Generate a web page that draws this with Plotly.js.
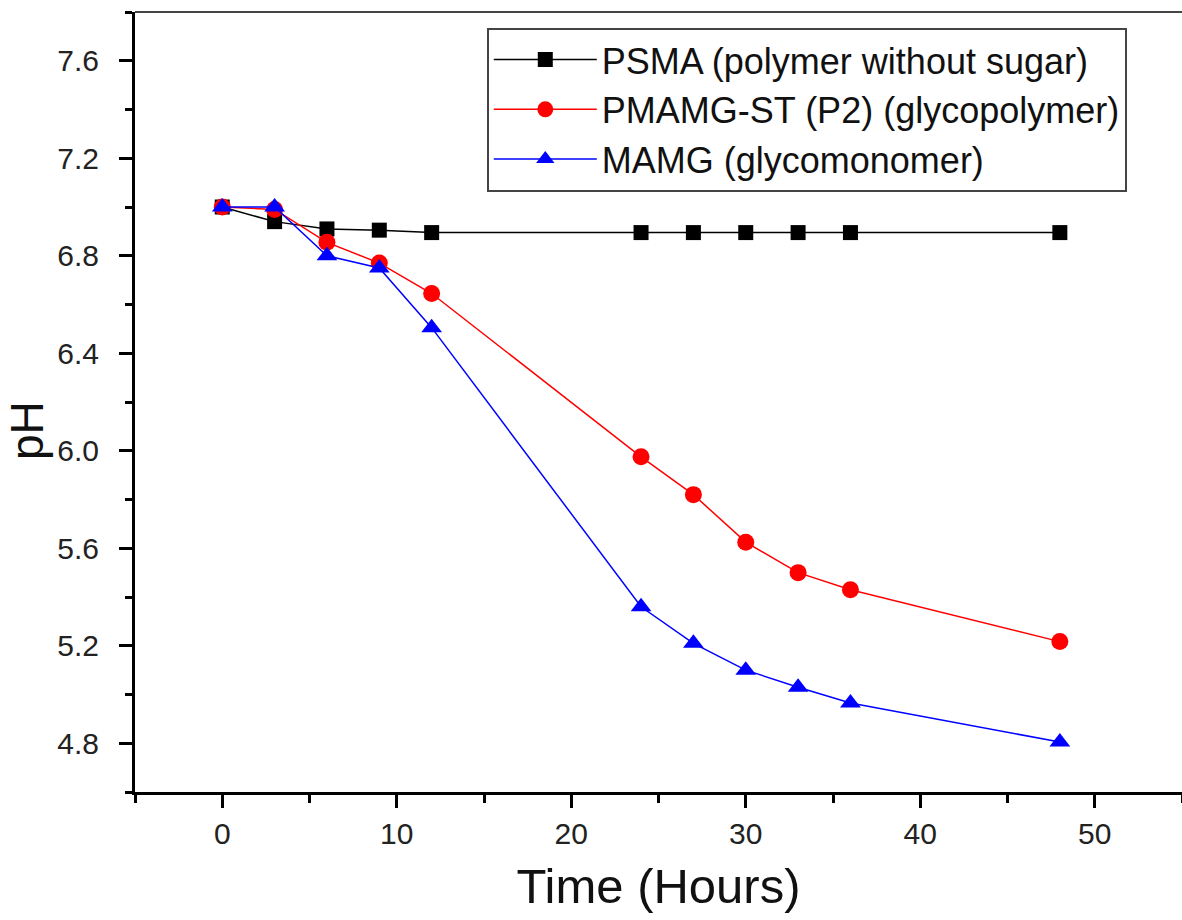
<!DOCTYPE html>
<html>
<head>
<meta charset="utf-8">
<script src="https://cdn.plot.ly/plotly-3.0.1.min.js"></script>
<style>html,body{margin:0;padding:0;background:#fff;}#chart{width:1182px;height:920px;}</style>
</head>
<body>
<div id="chart"></div>
<script>
const hours = [0, 3, 6, 9, 12, 24, 27, 30, 33, 36, 48];
const psmaName = "PSMA (polymer without sugar)";
const pmamgName = "PMAMG-ST (P2) (glycopolymer)";
const mamgName = "MAMG (glycomonomer)";
const psmaPH  = [7.00, 6.94, 6.91, 6.905, 6.895, 6.895, 6.895, 6.895, 6.895, 6.895, 6.895];
const pmamgPH = [7.00, 6.99, 6.855, 6.77, 6.645, 5.975, 5.82, 5.625, 5.50, 5.43, 5.217];
const mamgPH  = [7.00, 7.00, 6.80, 6.75, 6.505, 5.36, 5.21, 5.10, 5.03, 4.965, 4.805];
const yTicks = [4.8, 5.2, 5.6, 6.0, 6.4, 6.8, 7.2, 7.6];
const xTicks = [0, 10, 20, 30, 40, 50];
const xTitle = "Time (Hours)";
const yTitle = "pH";

const traces = [
  {x: hours, y: psmaPH, name: psmaName, type: 'scatter', mode: 'lines+markers',
   line: {color: '#000000', width: 1.5}, marker: {symbol: 'square', size: 15, color: '#000000'}},
  {x: hours, y: pmamgPH, name: pmamgName, type: 'scatter', mode: 'lines+markers',
   line: {color: '#ff0000', width: 1.5}, marker: {symbol: 'circle', size: 17, color: '#ff0000'}},
  {x: hours, y: mamgPH, name: mamgName, type: 'scatter', mode: 'lines+markers',
   line: {color: '#0000ff', width: 1.5}, marker: {symbol: 'triangle-up', size: 18, color: '#0000ff'}}
];

const FONT = 'Liberation Sans, Arial, sans-serif';
const layout = {
  width: 1182, height: 920,
  margin: {l: 135, r: 0, t: 12, b: 128, pad: 0},
  paper_bgcolor: '#fff', plot_bgcolor: '#fff',
  showlegend: true,
  xaxis: {
    range: [-5, 55], tickmode: 'array', tickvals: xTicks, ticktext: xTicks.map(String),
    showgrid: false, zeroline: false, showline: true, linecolor: '#000', linewidth: 3,
    ticks: 'outside', ticklen: 13, tickwidth: 3, tickcolor: '#000',
    minor: {tickmode: 'linear', dtick: 5, tick0: 0, ticks: 'outside', ticklen: 8, tickwidth: 3, tickcolor: '#000', showgrid: false},
    tickfont: {family: FONT, size: 30, color: '#222'}, ticklabelstandoff: 0,
    title: {text: xTitle, font: {family: FONT, size: 49, color: '#111'}, standoff: 20}
  },
  yaxis: {
    range: [4.6, 7.8], tickmode: 'array', tickvals: yTicks, ticktext: yTicks.map(v => v.toFixed(1)),
    showgrid: false, zeroline: false, showline: true, linecolor: '#000', linewidth: 3,
    ticks: 'outside', ticklen: 13, tickwidth: 3, tickcolor: '#000',
    minor: {tickmode: 'linear', dtick: 0.2, tick0: 4.6, ticks: 'outside', ticklen: 7, tickwidth: 3, tickcolor: '#000', showgrid: false},
    tickfont: {family: FONT, size: 30, color: '#222'}, ticklabelstandoff: 14
  },
  annotations: [
    {text: yTitle, xref: 'paper', yref: 'paper', x: -0.103, y: 0.463, xanchor: 'center', yanchor: 'middle',
     textangle: -90, showarrow: false, font: {family: FONT, size: 46, color: '#111'}}
  ],
  legend: {
    x: 0.336, y: 0.98, xanchor: 'left', yanchor: 'top',
    bgcolor: '#fff', bordercolor: '#444', borderwidth: 2,
    font: {family: FONT, size: 36, color: '#111'},
    tracegroupgap: 0, itemwidth: 103
  },
  shapes: [
    {type: 'line', xref: 'paper', yref: 'paper', x0: 0, x1: 1, y0: 1, y1: 1, line: {color: '#444', width: 2}}
  ]
};

Plotly.newPlot('chart', traces, layout, {displayModeBar: false, staticPlot: true});
</script>
</body>
</html>
